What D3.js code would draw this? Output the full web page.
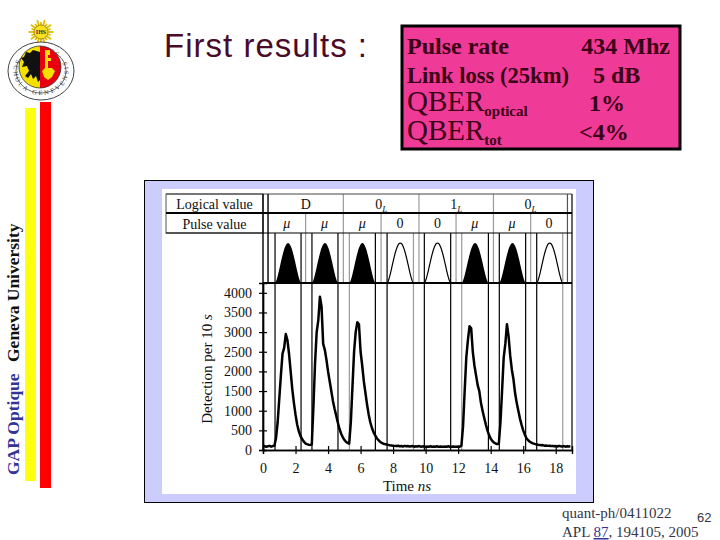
<!DOCTYPE html>
<html><head><meta charset="utf-8">
<script src="https://cdn.jsdelivr.net/npm/d3@7"></script>
<style>body{margin:0;background:#fff}svg{display:block}</style>
</head><body>
<svg id="c" width="720" height="540"></svg>
<script>
// ---------------- data ----------------
const binWidthNs = 0.1;
const counts = [
  90, 100, 80, 95, 105, 85, 100, 110, 300, 700,
  1300, 1900, 2450, 2600, 2950, 2800, 2450, 2000, 1550, 1200,
  900, 650, 480, 360, 280, 220, 170, 150, 135, 130,
  140, 1100, 2200, 3000, 3300, 3900, 3650, 2700, 2550, 2300,
  2000, 1750, 1500, 1250, 1050, 880, 700, 540, 420, 330,
  260, 210, 180, 160, 700, 1600, 2500, 3000, 3250, 3200,
  2500, 2150, 1750, 1450, 1150, 900, 700, 560, 450, 370,
  300, 250, 210, 180, 160, 150, 140, 130, 120, 115,
  110, 105, 100, 110, 95, 100, 90, 105, 95, 100,
  90, 95, 100, 85, 95, 90, 100, 85, 90, 95,
  80, 90, 85, 95, 80, 90, 85, 95, 80, 90,
  85, 80, 90, 85, 95, 80, 85, 90, 80, 85,
  90, 85, 110, 600, 1500, 2350, 2800, 3150, 3100, 2500,
  2150, 1900, 1650, 1500, 1200, 1000, 820, 650, 500, 380,
  290, 230, 190, 165, 150, 160, 700, 1500, 2350, 2700,
  3200, 2900, 2400, 2050, 1800, 1450, 1200, 1000, 800, 640,
  500, 390, 300, 250, 210, 190, 170, 155, 145, 135,
  130, 120, 125, 110, 115, 105, 110, 100, 105, 95,
  100, 90, 105, 95, 90, 100, 85, 95, 90, 95
];
const xTicks = [0, 2, 4, 6, 8, 10, 12, 14, 16, 18];
const yTicks = [0, 500, 1000, 1500, 2000, 2500, 3000, 3500, 4000];
const slotEdges = [0.31, 2.62, 4.94, 7.26, 9.59, 11.87, 14.17, 16.46, 18.72];
const pulseValues = ["μ", "μ", "μ", "0", "0", "μ", "μ", "0"];
const logicalMain = ["D", "0", "1", "0"];
const logicalSub = ["", "L", "L", "L"];
const windowStarts = [0.74, 3.01, 5.31, 7.63, 9.92, 12.22, 14.53, 16.83];
const windowEnds = [2.34, 4.61, 6.91, 9.25, 11.54, 13.86, 16.15, 18.43];
const windowStartColor = ["#000", "#000", "#999", "#000", "#000", "#999", "#000", "#000"];
const windowEndColor = ["#000", "#000", "#000", "#999", "#000", "#000", "#000", "#999"];
const infoLabels = ["Pulse rate", "Link loss (25km)", "QBER", "QBER"];
const infoSubs = ["", "", "optical", "tot"];
const infoValues = ["434 Mhz", "5 dB", "1%", "<4%"];

// ---------------- slide ----------------
const svg = d3.select("#c");
svg.append("rect").attr("width", 720).attr("height", 540).attr("fill", "#fff");

// logo
const logo = svg.append("g");
const sun = [41, 32];
d3.range(20).forEach(i => {
  const a = i / 20 * 2 * Math.PI;
  logo.append("line")
    .attr("x1", sun[0] + Math.cos(a) * 6).attr("y1", sun[1] + Math.sin(a) * 6)
    .attr("x2", sun[0] + Math.cos(a) * (i % 2 ? 10 : 12.5)).attr("y2", sun[1] + Math.sin(a) * (i % 2 ? 10 : 12.5))
    .attr("stroke", "#e0c000").attr("stroke-width", 1.8);
});
logo.append("circle").attr("cx", sun[0]).attr("cy", sun[1]).attr("r", 7)
  .attr("fill", "#f7e020").attr("stroke", "#806000").attr("stroke-width", 0.6);
logo.append("text").attr("x", sun[0]).attr("y", sun[1] + 2.2).attr("text-anchor", "middle")
  .attr("font-family", "Liberation Serif").attr("font-size", 6).attr("font-weight", "bold")
  .attr("fill", "#333").text("IHS");
const lc = [41, 71], lrx = 33, lry = 29;
logo.append("ellipse").attr("cx", lc[0]).attr("cy", lc[1]).attr("rx", lrx).attr("ry", lry)
  .attr("fill", "#fff").attr("stroke", "#444").attr("stroke-width", 1);
logo.append("ellipse").attr("cx", lc[0]).attr("cy", lc[1]).attr("rx", lrx - 8).attr("ry", lry - 7)
  .attr("fill", "none").attr("stroke", "#444").attr("stroke-width", 0.8);
const rr = [lrx - 5.5, lry - 5];
logo.append("path").attr("id", "ringpath")
  .attr("d", `M${lc[0]},${lc[1] - rr[1]} A${rr[0]},${rr[1]} 0 1 0 ${lc[0]},${lc[1] + rr[1]} A${rr[0]},${rr[1]} 0 1 0 ${lc[0]},${lc[1] - rr[1]}`)
  .attr("fill", "none");
logo.append("text").attr("font-family", "Liberation Serif").attr("font-size", 6.5).attr("fill", "#333")
  .append("textPath").attr("href", "#ringpath").attr("startOffset", "3%")
  .attr("textLength", 150).attr("lengthAdjust", "spacing")
  .text("·15· SCHOLA GENEVENSIS ·59·");
const sc = [40, 67], sr = 21;
logo.append("path").attr("d", `M${sc[0]},${sc[1] - sr} A${sr},${sr} 0 0 0 ${sc[0]},${sc[1] + sr} Z`).attr("fill", "#f5e000");
logo.append("path").attr("d", `M${sc[0]},${sc[1] - sr} A${sr},${sr} 0 0 1 ${sc[0]},${sc[1] + sr} Z`).attr("fill", "#e80010");
logo.append("circle").attr("cx", sc[0]).attr("cy", sc[1]).attr("r", sr).attr("fill", "none").attr("stroke", "#333").attr("stroke-width", 0.8);
logo.append("path").attr("fill", "#111")
  .attr("d", "M40,52 L33,50 L30,53 L26,52 L24,57 L21,58 L24,62 L22,67 L27,66 L29,71 L25,76 L28,78 L31,74 L33,79 L36,76 L38,82 L40,80 Z");
logo.append("path").attr("fill", "#f5e000")
  .attr("d", "M45,50 L50,50 L50,55 L48,55 L48,58 L51,58 L51,61 L48,61 L48,68 L52,68 L55,71 L52,77 L48,80 L44,77 L42,71 L45,68 Z");

// coloured bars and vertical caption
svg.append("rect").attr("x", 25).attr("y", 108).attr("width", 11).attr("height", 373).attr("fill", "#ffff10");
svg.append("rect").attr("x", 40).attr("y", 102).attr("width", 11).attr("height", 386).attr("fill", "#ff0000");
svg.append("text").attr("transform", "translate(18.5,475) rotate(-90)")
  .attr("font-family", "Liberation Serif").attr("font-weight", "bold").attr("font-size", 17.5)
  .attr("fill", "#333399").text("GAP Optique");
svg.append("text").attr("transform", "translate(18.5,362) rotate(-90)")
  .attr("font-family", "Liberation Serif").attr("font-weight", "bold").attr("font-size", 17.5)
  .attr("fill", "#111").text("Geneva University");

// title
svg.append("text").attr("x", 164).attr("y", 57)
  .attr("font-family", "Liberation Sans").attr("font-size", 33).attr("fill", "#4a0a28")
  .attr("textLength", 203).attr("lengthAdjust", "spacing").text("First results :");

// pink info box
svg.append("rect").attr("x", 402).attr("y", 26).attr("width", 278).attr("height", 123)
  .attr("fill", "#f03a98").attr("stroke", "#000").attr("stroke-width", 3);
const infoBase = [54, 83, 111, 140];
const infoValueX = [670, 593, 589, 579];
const infoAnchor = ["end", "start", "start", "start"];
infoLabels.forEach((lab, i) => {
  const t = svg.append("text").attr("x", 407).attr("y", infoBase[i])
    .attr("font-family", "Liberation Serif").attr("fill", "#3a0016");
  if (infoSubs[i]) {
    t.append("tspan").attr("font-size", 29).text(lab);
    t.append("tspan").attr("font-size", 15).attr("font-weight", "bold").attr("dy", 5).text(infoSubs[i]);
  } else {
    t.attr("font-size", 24).attr("font-weight", "bold").text(lab);
    if (i === 1) t.attr("textLength", 162).attr("lengthAdjust", "spacingAndGlyphs");
  }
  svg.append("text").attr("x", infoValueX[i]).attr("y", infoBase[i]).attr("text-anchor", infoAnchor[i])
    .attr("font-family", "Liberation Serif").attr("font-size", 24).attr("font-weight", "bold")
    .attr("fill", "#3a0016").text(infoValues[i]);
});

// references
svg.append("text").attr("x", 562).attr("y", 518).attr("font-family", "Liberation Serif")
  .attr("font-size", 15).attr("fill", "#353545").text("quant-ph/0411022");
svg.append("text").attr("x", 697).attr("y", 522).attr("font-family", "Liberation Sans")
  .attr("font-size", 13).attr("fill", "#353545").text("62");
const apl = svg.append("text").attr("x", 562).attr("y", 537).attr("font-family", "Liberation Serif")
  .attr("font-size", 15).attr("fill", "#353545");
apl.append("tspan").text("APL ");
apl.append("tspan").attr("fill", "#333399").attr("text-decoration", "underline").text("87");
apl.append("tspan").text(", 194105, 2005");

// ---------------- figure ----------------
svg.append("rect").attr("x", 144.5).attr("y", 180.5).attr("width", 449).attr("height", 322)
  .attr("fill", "#ccccff").attr("stroke", "#000").attr("stroke-width", 1);
svg.append("rect").attr("x", 162).attr("y", 189).attr("width", 414).attr("height", 305).attr("fill", "#fff");

const x = d3.scaleLinear().domain([0, 19]).range([263, 572]);
const y = d3.scaleLinear().domain([0, 4250]).range([450, 283]);
const pY = d3.scaleLinear().domain([0, 1]).range([283, 243]);
const rowTop = 194, rowMid = 213, rowPulse = 233, plotTop = y(4250), plotBot = y(0);
const serif = "Liberation Serif";
const fig = svg.append("g");

// pulses
const pulseArea = d3.area().x(d => x(d[0])).y0(pY(0)).y1(d => pY(d[1]));
const pulseLine = d3.line().x(d => x(d[0])).y(d => pY(d[1]));
windowStarts.forEach((ws, i) => {
  const we = windowEnds[i];
  const pts = d3.range(0, 1.0001, 1 / 40).map(u => [ws + u * (we - ws), Math.pow(Math.sin(Math.PI * u), 1.5)]);
  if (pulseValues[i] === "μ") {
    fig.append("path").attr("d", pulseArea(pts)).attr("fill", "#000");
  } else {
    fig.append("path").attr("d", pulseLine(pts)).attr("fill", "none").attr("stroke", "#000").attr("stroke-width", 1.2);
  }
});

// slot boundaries (table)
slotEdges.forEach((t, i) => {
  if (i === 0) return;
  const logical = (i % 2 === 0);
  fig.append("line").attr("x1", x(t)).attr("x2", x(t))
    .attr("y1", logical ? rowTop : rowMid).attr("y2", plotTop)
    .attr("stroke", i === slotEdges.length - 1 ? "#555" : "#9a9a9a").attr("stroke-width", 1.2);
});
// detection window lines
windowStarts.forEach((ws, i) => {
  fig.append("line").attr("x1", x(ws)).attr("x2", x(ws)).attr("y1", rowPulse).attr("y2", plotBot)
    .attr("stroke", windowStartColor[i]).attr("stroke-width", 1.2);
  fig.append("line").attr("x1", x(windowEnds[i])).attr("x2", x(windowEnds[i])).attr("y1", rowPulse).attr("y2", plotBot)
    .attr("stroke", windowEndColor[i]).attr("stroke-width", 1.2);
});

// table frame
fig.append("rect").attr("x", 166).attr("y", rowTop).attr("width", x(0) - 166).attr("height", rowPulse - rowTop)
  .attr("fill", "none").attr("stroke", "#555").attr("stroke-width", 1);
fig.append("line").attr("x1", 166).attr("x2", x(19)).attr("y1", rowTop).attr("y2", rowTop).attr("stroke", "#444").attr("stroke-width", 1);
fig.append("line").attr("x1", 166).attr("x2", x(19)).attr("y1", rowMid).attr("y2", rowMid).attr("stroke", "#000").attr("stroke-width", 2.2);
fig.append("line").attr("x1", 166).attr("x2", x(19)).attr("y1", rowPulse).attr("y2", rowPulse).attr("stroke", "#000").attr("stroke-width", 1.2);
fig.append("line").attr("x1", x(0)).attr("x2", x(19)).attr("y1", plotTop).attr("y2", plotTop).attr("stroke", "#000").attr("stroke-width", 2.2);
fig.append("line").attr("x1", x(0)).attr("x2", x(0)).attr("y1", rowTop).attr("y2", plotBot).attr("stroke", "#000").attr("stroke-width", 1.4);
fig.append("line").attr("x1", x(slotEdges[0])).attr("x2", x(slotEdges[0])).attr("y1", rowTop).attr("y2", plotTop).attr("stroke", "#000").attr("stroke-width", 1.4);
fig.append("line").attr("x1", x(19)).attr("x2", x(19)).attr("y1", rowTop).attr("y2", plotBot).attr("stroke", "#000").attr("stroke-width", 1.2);

// table text
fig.append("text").attr("x", (166 + x(0)) / 2).attr("y", 208.5).attr("text-anchor", "middle")
  .attr("font-family", serif).attr("font-size", 14).attr("fill", "#111").text("Logical value");
fig.append("text").attr("x", (166 + x(0)) / 2).attr("y", 228.5).attr("text-anchor", "middle")
  .attr("font-family", serif).attr("font-size", 14).attr("fill", "#111").text("Pulse value");
logicalMain.forEach((m, k) => {
  const cx = (x(slotEdges[2 * k]) + x(slotEdges[2 * k + 2])) / 2;
  const t = fig.append("text").attr("x", cx).attr("y", 208.5).attr("text-anchor", "middle")
    .attr("font-family", serif).attr("font-size", 14).attr("fill", "#111");
  t.append("tspan").text(m);
  if (logicalSub[k]) t.append("tspan").attr("font-size", 9).attr("font-style", "italic").attr("dy", 3).text(logicalSub[k]);
});
pulseValues.forEach((v, k) => {
  const cx = (x(slotEdges[k]) + x(slotEdges[k + 1])) / 2;
  fig.append("text").attr("x", cx).attr("y", 227.5).attr("text-anchor", "middle")
    .attr("font-family", serif).attr("font-size", 14).attr("fill", "#111")
    .attr("font-style", v === "μ" ? "italic" : "normal").text(v);
});

// histogram
const hist = d3.line().x((d, i) => x(i * binWidthNs)).y(d => y(d));
fig.append("path").attr("d", hist(counts)).attr("fill", "none").attr("stroke", "#000")
  .attr("stroke-width", 2.5).attr("stroke-linejoin", "round");

// axes
const fmt = d3.format("d");
const yAx = fig.append("g").attr("transform", `translate(${x(0)},0)`)
  .call(d3.axisLeft(y).tickValues(yTicks).tickFormat(fmt).tickSize(4).tickPadding(7));
const yAxIn = fig.append("g").attr("transform", `translate(${x(0)},0)`)
  .call(d3.axisLeft(y).tickValues(yTicks).tickSize(-4).tickFormat(""));
const xAx = fig.append("g").attr("transform", `translate(0,${plotBot})`)
  .call(d3.axisBottom(x).tickValues(xTicks).tickFormat(fmt).tickSize(4).tickPadding(9));
const xAxIn = fig.append("g").attr("transform", `translate(0,${plotBot})`)
  .call(d3.axisBottom(x).tickValues(xTicks).tickSize(-4).tickFormat(""));
[yAx, yAxIn, xAx, xAxIn].forEach(g => {
  g.select(".domain").attr("stroke", "#000").attr("stroke-width", 1.4);
  g.selectAll(".tick line").attr("stroke", "#000").attr("stroke-width", 1.2);
  g.selectAll("text").attr("font-family", serif).attr("font-size", 14).attr("fill", "#111");
});

// axis titles
const yl = fig.append("text").attr("transform", "translate(212,369) rotate(-90)").attr("text-anchor", "middle")
  .attr("font-family", serif).attr("font-size", 15).attr("fill", "#111");
yl.append("tspan").text("Detection per 10 ");
yl.append("tspan").attr("font-style", "italic").text("s");
const xl = fig.append("text").attr("x", 407).attr("y", 491).attr("text-anchor", "middle")
  .attr("font-family", serif).attr("font-size", 15).attr("fill", "#111");
xl.append("tspan").text("Time ");
xl.append("tspan").attr("font-style", "italic").text("ns");
</script>
</body></html>
